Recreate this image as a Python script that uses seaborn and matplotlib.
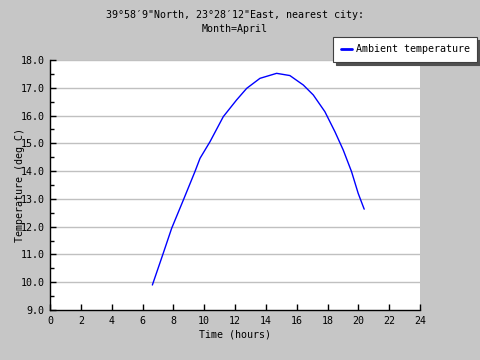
import numpy as np
import pandas as pd
import seaborn as sns
import matplotlib.pyplot as plt
from matplotlib.ticker import MultipleLocator

sns.set_style("white")
plt.rcParams['font.family'] = ['DejaVu Sans Mono']
plt.rcParams.update({'text.color': 'black', 'axes.labelcolor': 'black',
                     'xtick.color': 'black', 'ytick.color': 'black'})

# values
hours = [6.64, 7.35, 7.89, 8.65, 9.40, 9.73, 10.38, 11.24, 12.10, 12.76, 13.62,
         14.70, 15.56, 16.43, 17.08, 17.83, 18.48, 19.02, 19.56, 19.99, 20.38]
temps = [9.90, 11.05, 11.94, 12.96, 13.98, 14.46, 15.06, 15.96, 16.56, 16.98, 17.34,
         17.52, 17.44, 17.10, 16.74, 16.14, 15.42, 14.76, 13.98, 13.20, 12.63]
x_ticks = list(range(0, 25, 2))
y_ticks = [9.0, 10.0, 11.0, 12.0, 13.0, 14.0, 15.0, 16.0, 17.0, 18.0]

df = pd.DataFrame({'Time (hours)': hours, 'Temperature (deg C)': temps})
fs = 7.2

fig = plt.figure(figsize=(4.8, 3.6), dpi=100, facecolor='#c6c6c6')
ax = fig.add_axes([50/480, 1-310/360, 370/480, 250/360])
ax.set_facecolor('white')

for y in y_ticks[1:]:
    ax.axhline(y, color='#c0c0c0', lw=1, zorder=0)

sns.lineplot(data=df, x='Time (hours)', y='Temperature (deg C)', ax=ax,
             color='#0000ff', lw=1, label='Ambient temperature', legend=False)

ax.set_xlim(0, 24)
ax.set_ylim(9, 18)
ax.set_xticks(x_ticks)
ax.set_yticks(y_ticks)
ax.set_yticklabels([f'{v:.1f}' for v in y_ticks])
ax.yaxis.set_minor_locator(MultipleLocator(0.5))
ax.tick_params(axis='both', which='both', direction='in', color='black',
               labelcolor='black', labelsize=fs, length=4, width=1, pad=4)
ax.tick_params(axis='y', which='minor', length=3)
ax.tick_params(axis='y', left=True, which='both')
ax.tick_params(axis='x', bottom=True)

for s in ['top', 'right']:
    ax.spines[s].set_visible(False)
for s in ['left', 'bottom']:
    ax.spines[s].set_color('black')
    ax.spines[s].set_linewidth(1)

ax.set_xlabel('Time (hours)', fontsize=fs, labelpad=3, color='black')
ax.set_ylabel('Temperature (deg C)', fontsize=fs, color='black')
ax.yaxis.set_label_coords(-25/370, 0.5)
ax.set_title('39°58′9"North, 23°28′12"East, nearest city:\nMonth=April',
             fontsize=fs, pad=20, linespacing=1.5, color='black')

h, l = ax.get_legend_handles_labels()
leg = fig.legend(h, l, loc='upper right', bbox_to_anchor=(477/480, 1-37/360),
                 fontsize=fs, frameon=True, fancybox=False,
                 shadow={'color': '#505050', 'alpha': 1},
                 framealpha=1, edgecolor='#404040', borderpad=0.75,
                 borderaxespad=0, handlelength=1.1, handletextpad=0.4,
                 labelcolor='black')
leg.get_frame().set_linewidth(0.8)
for line in leg.get_lines():
    line.set_linewidth(2)

fig.savefig('out.png', dpi=100, facecolor=fig.get_facecolor())
